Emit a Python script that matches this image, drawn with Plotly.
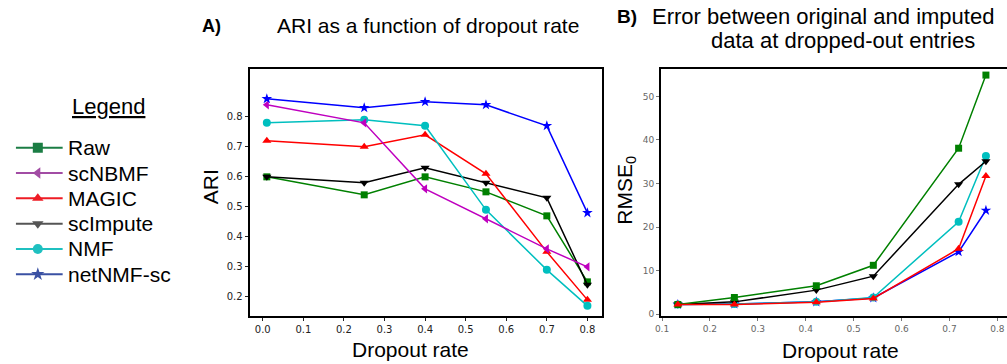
import plotly.graph_objects as go

W, H = 1007, 364

# ---- data -------------------------------------------------------------
methods = ["Raw", "scNBMF", "MAGIC", "scImpute", "NMF", "netNMF-sc"]

# Panel A: ARI vs dropout rate
ari_dropout = [0.01, 0.25, 0.40, 0.55, 0.70, 0.80]
ari_raw = [0.60, 0.54, 0.60, 0.55, 0.47, 0.25]
ari_scnbmf = [0.84, 0.78, 0.56, 0.46, 0.36, 0.30]
ari_magic = [0.72, 0.70, 0.74, 0.61, 0.35, 0.19]
ari_scimpute = [0.60, 0.58, 0.63, 0.58, 0.53, 0.24]
ari_nmf = [0.78, 0.79, 0.77, 0.49, 0.29, 0.17]
ari_netnmf = [0.86, 0.83, 0.85, 0.84, 0.77, 0.48]

# Panel B: RMSE at dropped-out entries vs dropout rate
rmse_dropout = [0.133, 0.251, 0.422, 0.541, 0.719, 0.776]
rmse_raw = [2.2, 3.8, 6.5, 11.2, 38.1, 54.9]
rmse_scimpute = [2.2, 2.8, 5.5, 8.7, 29.8, 35.1]
rmse_nmf = [2.2, 2.3, 2.8, 3.8, 21.2, 36.3]
rmse_magic = [2.2, 2.2, 2.7, 3.6, 15.0, 31.7]
rmse_netnmf = [2.2, 2.3, 2.8, 3.7, 14.3, 23.8]

ari_ticks = [0.0, 0.1, 0.2, 0.3, 0.4, 0.5, 0.6, 0.7, 0.8]
ari_yticks = [0.2, 0.3, 0.4, 0.5, 0.6, 0.7, 0.8]
rmse_xticks = [0.1, 0.2, 0.3, 0.4, 0.5, 0.6, 0.7, 0.8]
rmse_yticks = [0, 10, 20, 30, 40, 50]

# ---- styles -------------------------------------------------------------
plot_colors = {"Raw": "#008000", "scNBMF": "#bf00bf", "MAGIC": "#ff0000",
               "scImpute": "#000000", "NMF": "#00bfbf", "netNMF-sc": "#0000ff"}
key_colors = {"Raw": "#1b7d44", "scNBMF": "#a24ca4", "MAGIC": "#ee1c25",
              "scImpute": "#555555", "NMF": "#1fc0c0", "netNMF-sc": "#3a51a3"}
symbols = {"Raw": "square", "scNBMF": "triangle-left", "MAGIC": "triangle-up",
           "scImpute": "triangle-down", "NMF": "circle", "netNMF-sc": "star"}
msize = {"Raw": 7, "scNBMF": 8, "MAGIC": 8, "scImpute": 8, "NMF": 8, "netNMF-sc": 8}

TEXT_FONT = "Liberation Sans, Arial, sans-serif"
TICK_FONT = "DejaVu Sans, sans-serif"

fig = go.Figure()

series_a = {"Raw": ari_raw, "scNBMF": ari_scnbmf, "MAGIC": ari_magic,
            "scImpute": ari_scimpute, "NMF": ari_nmf, "netNMF-sc": ari_netnmf}
for m in ["Raw", "scImpute", "MAGIC", "NMF", "scNBMF", "netNMF-sc"]:
    fig.add_trace(go.Scatter(
        x=ari_dropout, y=series_a[m], mode="lines+markers", name=m,
        line=dict(color=plot_colors[m], width=1.5),
        marker=dict(symbol=symbols[m], size=msize[m], color=plot_colors[m]),
        xaxis="x", yaxis="y", showlegend=False, cliponaxis=False))

series_b = {"netNMF-sc": rmse_netnmf, "NMF": rmse_nmf, "scImpute": rmse_scimpute,
            "Raw": rmse_raw, "MAGIC": rmse_magic}
for m in ["netNMF-sc", "NMF", "scImpute", "Raw", "MAGIC"]:
    fig.add_trace(go.Scatter(
        x=rmse_dropout, y=series_b[m], mode="lines+markers", name=m,
        line=dict(color=plot_colors[m], width=1.5),
        marker=dict(symbol=symbols[m], size=msize[m], color=plot_colors[m]),
        xaxis="x2", yaxis="y2", showlegend=False, cliponaxis=False))

# ---- hand-drawn key (pixel coordinates on a hidden axis pair) -----------
key_y0, key_dy = 149, 25.5
key_x_line = [10, 57]
key_x_mark = 32
annotations = []
for i, m in enumerate(methods):
    yy = key_y0 + i * key_dy
    fig.add_trace(go.Scatter(x=key_x_line, y=[yy, yy], mode="lines",
                             line=dict(color=key_colors[m], width=2),
                             xaxis="x3", yaxis="y3", showlegend=False, hoverinfo="skip"))
    fig.add_trace(go.Scatter(x=[key_x_mark], y=[yy], mode="markers",
                             marker=dict(symbol=symbols[m], size=10, color=key_colors[m]),
                             xaxis="x3", yaxis="y3", showlegend=False, hoverinfo="skip"))
    annotations.append(dict(x=60 / W, y=1 - yy / H, xref="paper", yref="paper",
                            text=m, showarrow=False, xanchor="left", yanchor="middle",
                            font=dict(family=TEXT_FONT, size=21, color="black")))

annotations.append(dict(x=103 / W, y=1 - 107 / H, xref="paper", yref="paper",
                        text="<u>Legend</u>", showarrow=False, xanchor="center", yanchor="middle",
                        font=dict(family=TEXT_FONT, size=22, color="black")))

# ---- titles and axis labels ---------------------------------------------
def label(x, y, text, size, angle=0, bold=False):
    if bold:
        text = "<b>" + text + "</b>"
    annotations.append(dict(x=x / W, y=1 - y / H, xref="paper", yref="paper",
                            text=text, showarrow=False, textangle=angle,
                            xanchor="center", yanchor="middle",
                            font=dict(family=TEXT_FONT, size=size, color="black")))

label(207, 26, "A)", 18, bold=True)
label(425, 26, "ARI as a function of dropout rate", 21)
label(625, 17, "B)", 19, bold=True)
label(822, 17, "Error between original and imputed", 22)
label(842, 41, "data at dropped-out entries", 22)
label(206, 188, "ARI", 21, angle=-90)
label(407, 352, "Dropout rate", 21)
label(624, 192, "RMSE<sub>0</sub>", 21, angle=-90)
label(840, 353, "Dropout rate", 21)

ydom = [1 - 319 / H, 1 - 70 / H]
axis_common = dict(showgrid=False, zeroline=False, showline=True, linecolor="black",
                   linewidth=2, ticks="outside", ticklen=3)

fig.update_layout(
    width=W, height=H, margin=dict(l=0, r=0, t=0, b=0),
    paper_bgcolor="white", plot_bgcolor="white",
    annotations=annotations,
    xaxis=dict(domain=[245 / W, 600 / W], range=[-0.0326, 0.837], anchor="y",
               tickvals=ari_ticks, ticktext=[f"{v:.1f}" for v in ari_ticks],
               mirror=True, tickcolor="#222",
               tickfont=dict(family=TICK_FONT, size=10, color="#222"), **axis_common),
    yaxis=dict(domain=ydom, range=[0.135, 0.958], anchor="x",
               tickvals=ari_yticks, ticktext=[f"{v:.1f}" for v in ari_yticks],
               mirror=True, tickcolor="#222",
               tickfont=dict(family=TICK_FONT, size=10, color="#222"), **axis_common),
    xaxis2=dict(domain=[659 / W, 1.0], range=[0.098, 0.82], anchor="y2",
                tickvals=rmse_xticks, ticktext=[f"{v:.1f}" for v in rmse_xticks],
                mirror=True, tickcolor="#777",
                tickfont=dict(family=TICK_FONT, size=9, color="#666"), **axis_common),
    yaxis2=dict(domain=ydom, range=[-0.53, 56.2], anchor="x2",
                tickvals=rmse_yticks, mirror=False, tickcolor="#777",
                tickfont=dict(family=TICK_FONT, size=9, color="#666"), **axis_common),
    xaxis3=dict(domain=[0, 200 / W], range=[0, 200], visible=False, anchor="y3"),
    yaxis3=dict(domain=[0, 1], range=[H, 0], visible=False, anchor="x3"),
)

fig.write_html("out.html")
